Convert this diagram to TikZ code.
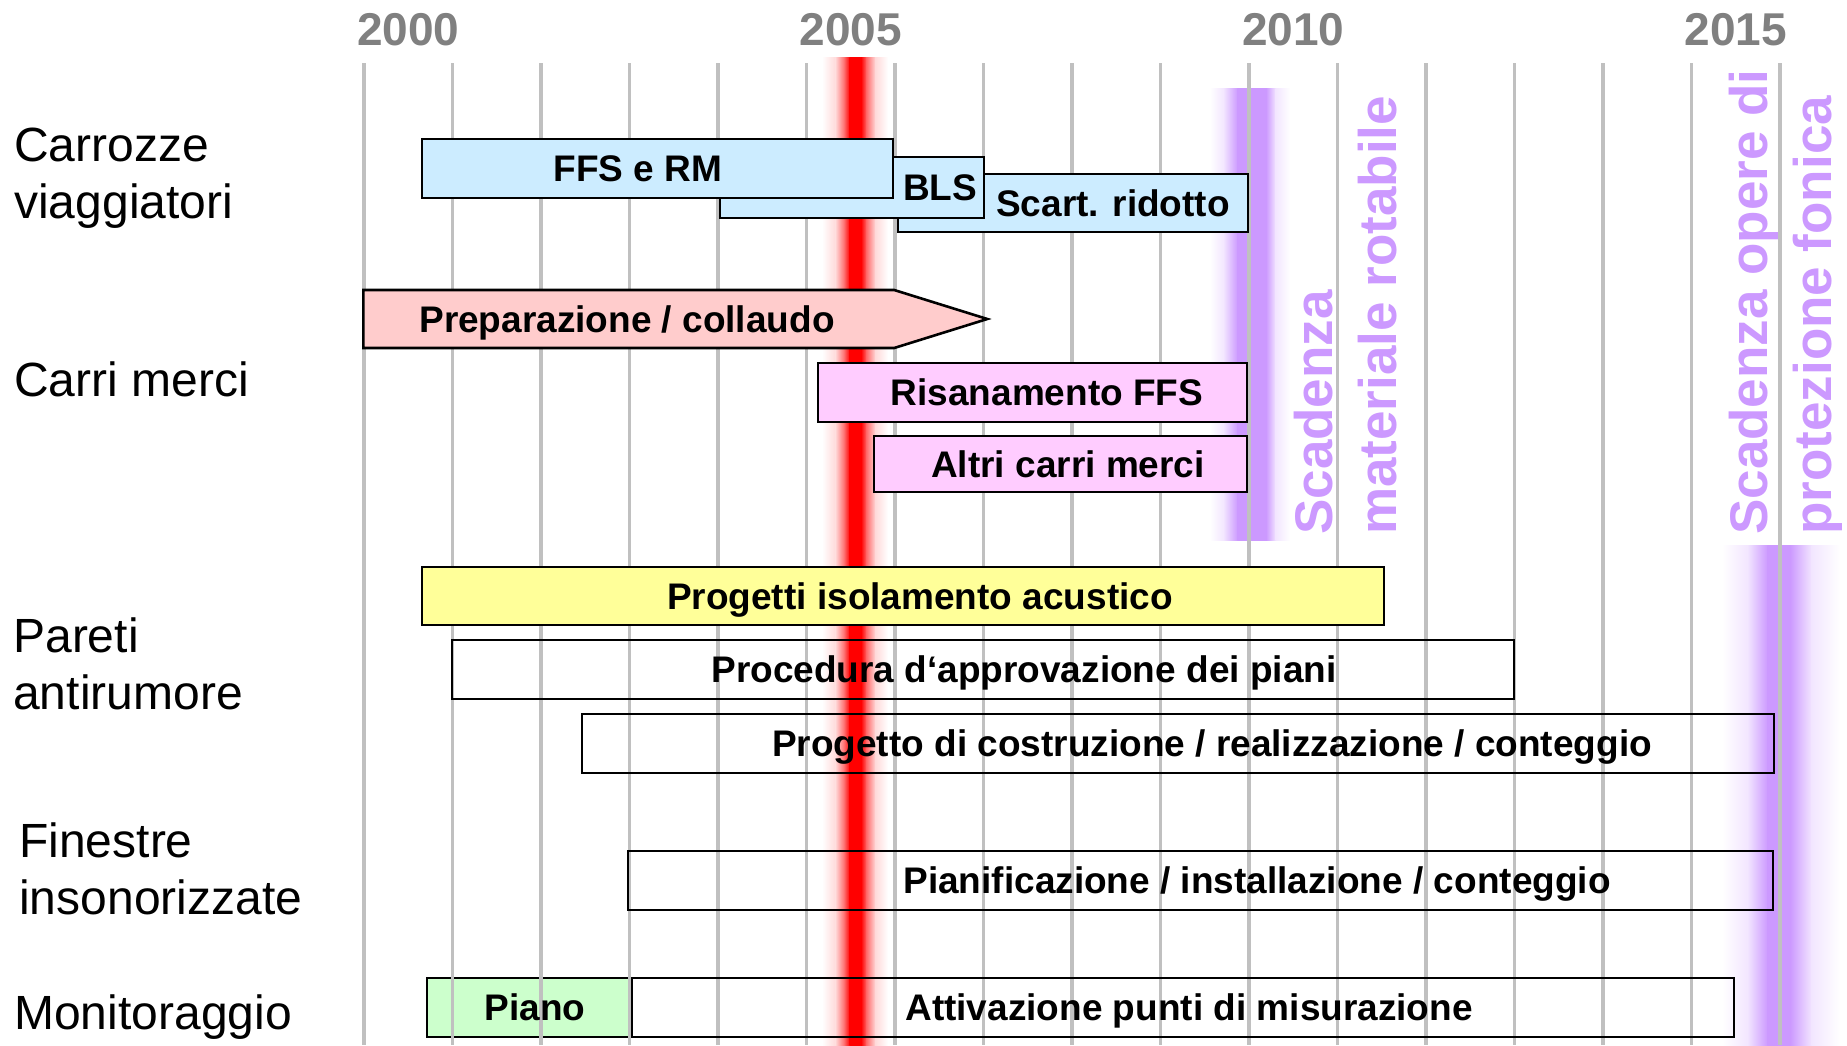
\documentclass[tikz,border=0pt]{standalone}
\usepackage{fontspec}
\setmainfont{Liberation Sans}
\usepackage{xcolor}
\usepackage{tikz}
\usetikzlibrary{shapes.arrows}

\definecolor{gridgray}{RGB}{192,192,192}
\definecolor{yeargray}{RGB}{128,128,128}
\definecolor{lilac}{RGB}{204,153,255}
\definecolor{carblue}{RGB}{204,236,255}
\definecolor{prepred}{RGB}{255,204,204}
\definecolor{wagonpink}{RGB}{255,204,255}
\definecolor{wallyellow}{RGB}{255,255,153}
\definecolor{plangreen}{RGB}{204,255,204}

\begin{document}
\begin{tikzpicture}[x=1pt, y=-1pt, line width=2.6pt]

                \tikzset{bar/.style={rectangle, draw=black, inner sep=0pt, outer sep=0pt, anchor=north west}}
                \tikzset{bartext/.style={font=\bfseries\fontsize{37}{44}\selectfont, anchor=base, inner sep=0pt}}
                \tikzset{rowlabel/.style={font=\fontsize{48}{57}\selectfont, align=left, anchor=north west, inner sep=0pt}}
                \tikzset{yearlabel/.style={font=\bfseries\fontsize{46}{55}\selectfont, text=yeargray, anchor=base, inner sep=0pt}}
                \tikzset{deadline/.style={font=\bfseries\fontsize{53}{64}\selectfont, text=lilac, align=left, rotate=90, anchor=north west, inner sep=0pt}}
                \tikzset{gridline/.style={draw=gridgray, line width=3.5pt}}

                \path[use as bounding box, fill=white] (0,0) rectangle (1847,1045);

                % deadline bands
                \foreach \a/\b/\ca/\cb in {1210/1224/white/lilac!25, 1223.5/1238/lilac!25/lilac, 1237.5/1266.5/lilac/lilac,
                                           1266/1276/lilac/lilac!25, 1275.5/1290/lilac!25/white}
                    \shade[left color=\ca, right color=\cb] (\a,88) rectangle (\b,540);
                \foreach \a/\b/\ca/\cb in {1722/1748/white/lilac!25, 1747.5/1768/lilac!25/lilac, 1767.5/1790.5/lilac/lilac,
                                           1790/1812/lilac/lilac!25, 1811.5/1840/lilac!25/white}
                    \shade[left color=\ca, right color=\cb] (\a,545) rectangle (\b,1045);

                \node[bar, fill=plangreen, minimum width=202pt, minimum height=59pt] (piano) at (427,978) {};

                \foreach \k in {0,...,16}
                    \draw[gridline] ({364+88.5*\k},63) -- ({364+88.5*\k},1045);

                % today
                \foreach \a/\b/\ca/\cb in {822/836/white/red!15, 835.5/845/red!15/red!60, 844.5/850/red!60/red, 849.5/861.5/red/red,
                                           861/866.5/red/red!60, 866/875.5/red!60/red!15, 875/888/red!15/white}
                    \shade[left color=\ca, right color=\cb] (\a,57) rectangle (\b,1045);

                \foreach \yr/\i in {2000/0, 2005/1, 2010/2, 2015/3}
                    \node[yearlabel] (y\yr) at ({364+88.5*(5*\i+0.5)},45) {\yr};

                \node[bar, fill=carblue, minimum width=350pt, minimum height=58pt] (scart) at (898,174) {};
                \node[bar, fill=carblue, minimum width=264pt, minimum height=61pt] (bls) at (720,157) {};
                \node[bar, fill=carblue, minimum width=471pt, minimum height=59pt] (ffs) at (422,139) {};
                \node[single arrow, single arrow head extend=0pt, single arrow tip angle=34.6,
                      minimum height=624pt, minimum width=58pt, draw=black, fill=prepred,
                      inner sep=0pt, anchor=tail] (prep) at (362,319) {};
                \node[bar, fill=wagonpink, minimum width=429pt, minimum height=59pt] (risan) at (818,363) {};
                \node[bar, fill=wagonpink, minimum width=373pt, minimum height=56pt] (altri) at (874,436) {};
                \node[bar, fill=wallyellow, minimum width=962pt, minimum height=58pt] (isol) at (422,567) {};
                \node[bar, minimum width=1062pt, minimum height=59pt] (proc) at (452,640) {};
                \node[bar, minimum width=1192pt, minimum height=59pt] (costr) at (582,714) {};
                \node[bar, minimum width=1145pt, minimum height=59pt] (pianif) at (628,851) {};
                \node[bar, minimum width=1102pt, minimum height=59pt] (attiv) at (632,978) {};

                \node[bartext] (ffs-t) at ([shift={(-19.5,12.5)}]ffs.center) {FFS e RM};
                \node[bartext] (bls-t) at ([shift={(88,12.5)}]bls.center) {BLS};
                \node[bartext] (scart-t) at ([shift={(40,13)}]scart.center) {Scart. ridotto};
                \node[bartext] (prep-t) at ([shift={(265,13)}]prep.tail) {Preparazione / collaudo};
                \node[bartext] (risan-t) at ([shift={(14.5,12.5)}]risan.center) {Risanamento FFS};
                \node[bartext] (altri-t) at ([shift={(7.5,13)}]altri.center) {Altri carri merci};
                \node[bartext] (isol-t) at ([shift={(17,13)}]isol.center) {Progetti isolamento acustico};
                \node[bartext] (proc-t) at ([shift={(41,12.5)}]proc.center) {Procedura d‘approvazione dei piani};
                \node[bartext] (costr-t) at ([shift={(34,12.5)}]costr.center) {Progetto di costruzione / realizzazione / conteggio};
                \node[bartext] (pianif-t) at ([shift={(56.5,12.5)}]pianif.center) {Pianificazione / installazione / conteggio};
                \node[bartext] (piano-t) at ([shift={(7,12.5)}]piano.center) {Piano};
                \node[bartext] (attiv-t) at ([shift={(6,12.5)}]attiv.center) {Attivazione punti di misurazione};

                \node[rowlabel] (carrozze) at (13,127) {Carrozze\\viaggiatori};
                \node[rowlabel] (carri) at (13,360) {Carri merci};
                \node[rowlabel] (pareti) at (12,616) {Pareti\\antirumore};
                \node[rowlabel] (finestre) at (18,821) {Finestre\\insonorizzate};
                \node[rowlabel] (monit) at (13,993) {Monitoraggio};

                \node[deadline] (dl-rotabile) at (1293,536) {Scadenza\\materiale rotabile};
                \node[deadline] (dl-fonica) at (1728,536) {Scadenza opere di\\protezione fonica};
            \end{tikzpicture}
\end{document}
